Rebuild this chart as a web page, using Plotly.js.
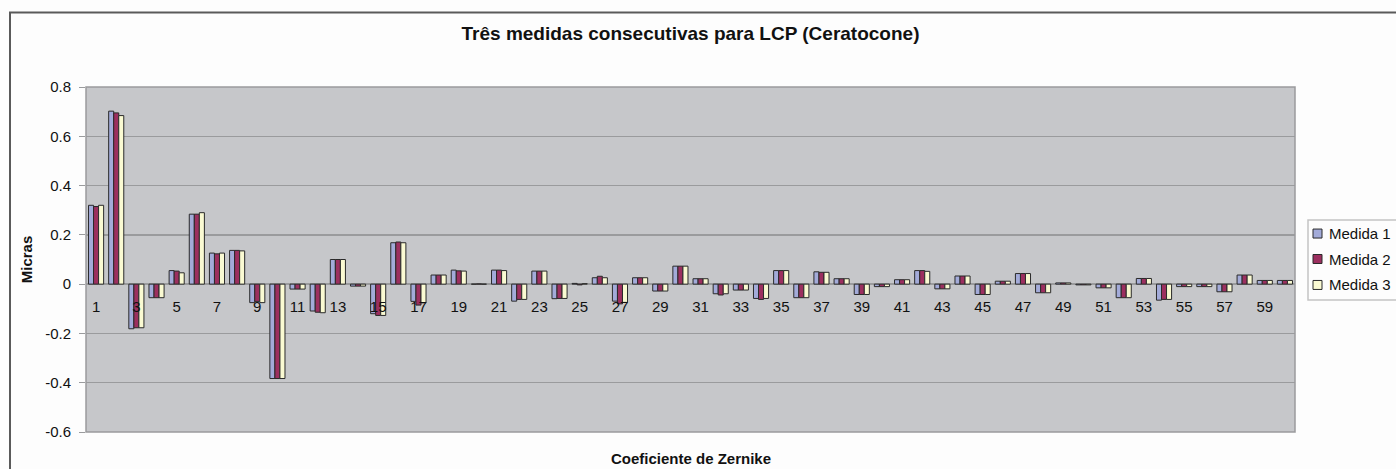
<!DOCTYPE html>
<html>
<head>
<meta charset="utf-8">
<script src="https://cdn.plot.ly/plotly-3.0.1.min.js"></script>
<style>
html,body{margin:0;padding:0;background:#fdfdfd;}
#chart{width:1396px;height:469px;}
</style>
</head>
<body>
<div id="chart"></div>
<script>
const categories = Array.from({length: 60}, (_, i) => i + 1);
const tickValues = [1,3,5,7,9,11,13,15,17,19,21,23,25,27,29,31,33,35,37,39,41,43,45,47,49,51,53,55,57,59];
const tickLabels = tickValues.map(String);
const yTickVals = [-0.6,-0.4,-0.2,0,0.2,0.4,0.6,0.8];
const yTickText = ['-0.6','-0.4','-0.2','0','0.2','0.4','0.6','0.8'];
const seriesNames = ['Medida 1','Medida 2','Medida 3'];

const medida1 = [0.32,0.702,-0.181,-0.055,0.055,0.284,0.126,0.137,-0.075,-0.383,
  -0.02,-0.109,0.1,-0.008,-0.12,0.168,-0.07,0.037,0.057,0,
  0.057,-0.069,0.053,-0.059,0.003,0.026,-0.069,0.026,-0.028,0.073,
  0.022,-0.039,-0.024,-0.058,0.055,-0.055,0.05,0.022,-0.042,-0.01,
  0.018,0.055,-0.019,0.033,-0.042,0.012,0.043,-0.035,0.005,-0.003,
  -0.015,-0.055,0.023,-0.065,-0.01,-0.01,-0.031,0.037,0.015,0.015];
const medida2 = [0.315,0.695,-0.177,-0.055,0.053,0.284,0.123,0.137,-0.07,-0.383,
  -0.02,-0.114,0.1,-0.008,-0.127,0.171,-0.085,0.037,0.054,0.001,
  0.057,-0.062,0.053,-0.058,-0.003,0.032,-0.08,0.026,-0.028,0.073,
  0.022,-0.044,-0.024,-0.062,0.055,-0.055,0.048,0.022,-0.042,-0.01,
  0.018,0.055,-0.019,0.033,-0.042,0.012,0.043,-0.035,0.005,-0.003,
  -0.015,-0.055,0.023,-0.062,-0.01,-0.01,-0.031,0.037,0.015,0.015];
const medida3 = [0.32,0.684,-0.177,-0.055,0.046,0.29,0.126,0.135,-0.075,-0.383,
  -0.02,-0.116,0.1,-0.008,-0.127,0.168,-0.076,0.037,0.053,0,
  0.055,-0.062,0.053,-0.058,0.002,0.026,-0.074,0.026,-0.028,0.073,
  0.022,-0.039,-0.024,-0.058,0.055,-0.055,0.048,0.022,-0.042,-0.01,
  0.018,0.052,-0.019,0.033,-0.042,0.012,0.043,-0.035,0.005,-0.003,
  -0.015,-0.055,0.023,-0.062,-0.01,-0.01,-0.031,0.037,0.015,0.015];

const colors = ['#a3abd9','#9c2f5f','#fafad2'];
const allSeries = [medida1, medida2, medida3];
const FONT = 'Liberation Sans, Arial, sans-serif';

// plot-area geometry (pixels) used to convert page pixels to paper coords
const PL = 86, PR = 1295, PT = 86.7, PB = 432.3;
const px2x = p => (p - PL) / (PR - PL);
const px2y = p => (PB - p) / (PB - PT);

const traces = allSeries.map((vals, i) => ({
  type: 'bar',
  name: seriesNames[i],
  x: categories,
  y: vals,
  marker: {color: colors[i], line: {color: '#2a2a2a', width: 1}},
  hoverinfo: 'x+y+name',
  showlegend: false
}));

const zeroFrac = (0 - (-0.6)) / (0.8 - (-0.6));

// custom legend (box, swatches, labels)
const legendShapes = [
  {type: 'rect', xref: 'paper', yref: 'paper',
   x0: px2x(1308), x1: px2x(1420), y0: px2y(300), y1: px2y(220),
   line: {color: '#c4c4c4', width: 1.5}, fillcolor: '#fdfdfd', layer: 'above'}
];
const legendRowsY = [233.5, 259, 285];
const legendAnn = [];
seriesNames.forEach((nm, i) => {
  const cy = legendRowsY[i];
  legendShapes.push({type: 'rect', xref: 'paper', yref: 'paper',
    x0: px2x(1313), x1: px2x(1322), y0: px2y(cy + 4.5), y1: px2y(cy - 4.5),
    line: {color: '#2a2a2a', width: 1}, fillcolor: colors[i], layer: 'above'});
  legendAnn.push({text: nm, xref: 'paper', yref: 'paper',
    x: px2x(1327), y: px2y(cy), xanchor: 'left', yanchor: 'middle',
    showarrow: false, font: {family: FONT, size: 15, color: '#111'}});
});

const layout = {
  width: 1396, height: 469,
  margin: {l: PL, r: 1396 - PR, t: PT, b: 469 - PB, pad: 0, autoexpand: false},
  paper_bgcolor: '#fdfdfd',
  plot_bgcolor: '#c6c7ca',
  barmode: 'group',
  bargap: 0.25,
  bargroupgap: 0,
  font: {family: FONT, color: '#111', size: 15},
  title: {
    text: '<b>Três medidas consecutivas para LCP (Ceratocone)</b>',
    font: {family: FONT, size: 19, color: '#111'},
    x: 0.5, xref: 'paper', xanchor: 'center',
    y: 1 - 33/469, yref: 'container', yanchor: 'middle'
  },
  xaxis: {
    type: 'linear',
    range: [0.5, 60.5],
    anchor: 'free',
    position: zeroFrac,
    tickmode: 'array',
    tickvals: tickValues,
    ticktext: tickLabels,
    ticks: '',
    ticklabelstandoff: 12,
    showgrid: false,
    zeroline: false,
    showline: false,
    tickfont: {family: FONT, size: 15, color: '#111'},
    fixedrange: true
  },
  yaxis: {
    range: [-0.6, 0.8],
    tickmode: 'array',
    tickvals: yTickVals,
    ticktext: yTickText,
    ticks: 'outside',
    ticklen: 6,
    tickcolor: '#9a9b9d',
    ticklabelstandoff: 5,
    showgrid: true,
    gridcolor: '#9a9b9d',
    gridwidth: 1.5,
    zeroline: true,
    zerolinecolor: '#9a9b9d',
    zerolinewidth: 1.5,
    showline: false,
    tickfont: {family: FONT, size: 15, color: '#111'},
    title: {text: '<b>Micras</b>', font: {family: FONT, size: 15, color: '#111'}, standoff: 8},
    fixedrange: true
  },
  showlegend: false,
  annotations: [{
    text: '<b>Coeficiente de Zernike</b>',
    xref: 'paper', yref: 'paper',
    x: 0.5, y: px2y(459),
    xanchor: 'center', yanchor: 'middle',
    showarrow: false,
    font: {family: FONT, size: 15, color: '#111'}
  }].concat(legendAnn),
  shapes: [
    {type: 'rect', xref: 'paper', yref: 'paper', x0: 0, x1: 1, y0: 0, y1: 1,
     line: {color: '#9a9b9d', width: 1.5}, fillcolor: 'rgba(0,0,0,0)', layer: 'above'},
    {type: 'rect', xref: 'paper', yref: 'paper',
     x0: px2x(10), x1: px2x(1420), y0: px2y(490), y1: px2y(12),
     line: {color: '#5a5a5a', width: 2}, fillcolor: 'rgba(0,0,0,0)', layer: 'above'}
  ].concat(legendShapes)
};

Plotly.newPlot('chart', traces, layout, {displayModeBar: false, staticPlot: true});
</script>
</body>
</html>
